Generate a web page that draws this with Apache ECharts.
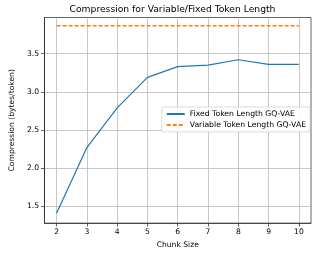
<!DOCTYPE html>
<html><head><meta charset="utf-8">
<script src="https://cdn.jsdelivr.net/npm/echarts@6/dist/echarts.min.js"></script>
<style>html,body{margin:0;padding:0;background:#fff}#c{width:317px;height:254px}</style>
</head><body><div id="c"></div>
<script>
const chunkSizes = [2, 3, 4, 5, 6, 7, 8, 9, 10];
const fixedLength = [1.41, 2.27, 2.79, 3.19, 3.33, 3.35, 3.42, 3.36, 3.36];
const variableLength = [3.865, 3.865, 3.865, 3.865, 3.865, 3.865, 3.865, 3.865, 3.865];
const xTicks = [2, 3, 4, 5, 6, 7, 8, 9, 10];
const yTicks = [1.5, 2.0, 2.5, 3.0, 3.5];

const font = '"DejaVu Sans", sans-serif';
const fs = 7.6;
const chart = echarts.init(document.getElementById('c'), null, {renderer: 'canvas'});
chart.setOption({
  animation: false,
  backgroundColor: '#fff',
  title: {
    text: 'Compression for Variable/Fixed Token Length',
    left: 172.5, textAlign: 'center', top: 3, padding: [2, 0, 2, 0],
    textStyle: {fontFamily: font, fontSize: 9.2, fontWeight: 'normal', color: '#000'}
  },
  grid: {left: 34, right: 6, top: 17.5, bottom: 30, show: true, borderColor: '#222', borderWidth: 0.7, containLabel: false},
  legend: {
    orient: 'vertical', right: 7, top: 107,
    itemWidth: 18, itemHeight: 1, itemGap: 3,
    padding: [3, 4, 3, 4],
    backgroundColor: 'rgba(255,255,255,0.85)', borderColor: '#ccc', borderWidth: 0.7, borderRadius: 2,
    textStyle: {fontFamily: font, fontSize: 7.7, color: '#000'},
    data: ['Fixed Token Length GQ-VAE', 'Variable Token Length GQ-VAE']
  },
  xAxis: {
    type: 'value', min: 1.6, max: 10.4,
    name: 'Chunk Size', nameLocation: 'middle', nameGap: 17,
    nameTextStyle: {fontFamily: font, fontSize: fs, color: '#000'},
    axisLine: {show: true, onZero: false, lineStyle: {color: '#222', width: 0.7}},
    axisTick: {show: true, length: 3.5, customValues: xTicks, lineStyle: {color: '#222', width: 0.7}},
    axisLabel: {customValues: xTicks, fontFamily: font, fontSize: fs, color: '#000', margin: 5, formatter: v => String(v)},
    splitLine: {show: true, lineStyle: {color: '#b0b0b0', width: 0.7}}
  },
  yAxis: {
    type: 'value', min: 1.282, max: 3.973,
    name: 'Compression (bytes/token)', nameLocation: 'middle', nameGap: 23, nameRotate: 90,
    nameTextStyle: {fontFamily: font, fontSize: fs, color: '#000'},
    axisLine: {show: true, onZero: false, lineStyle: {color: '#222', width: 0.7}},
    axisTick: {show: true, length: 3.5, customValues: yTicks, lineStyle: {color: '#222', width: 0.7}},
    axisLabel: {customValues: yTicks, fontFamily: font, fontSize: fs, color: '#000', margin: 5.5, formatter: v => v.toFixed(1)},
    splitLine: {show: true, lineStyle: {color: '#b0b0b0', width: 0.7}}
  },
  series: [
    {
      name: 'Fixed Token Length GQ-VAE', type: 'line', symbol: 'none',
      data: chunkSizes.map((x, i) => [x, fixedLength[i]]),
      lineStyle: {color: '#1f77b4', width: 1.2}, itemStyle: {color: '#1f77b4'}
    },
    {
      name: 'Variable Token Length GQ-VAE', type: 'line', symbol: 'none',
      data: chunkSizes.map((x, i) => [x, variableLength[i]]),
      lineStyle: {color: '#ff7f0e', width: 1.3, type: [4, 2]}, itemStyle: {color: '#ff7f0e'}
    }
  ]
});
</script></body></html>
